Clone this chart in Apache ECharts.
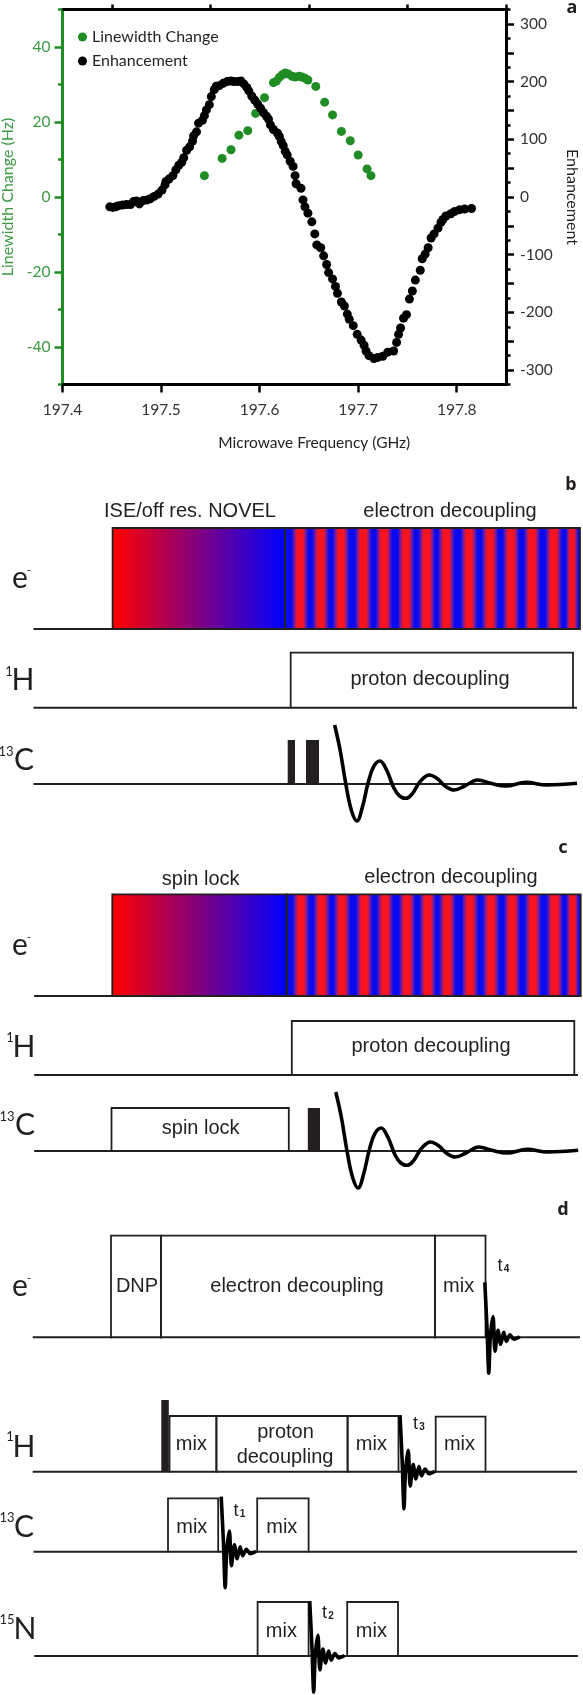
<!DOCTYPE html>
<html>
<head>
<meta charset="utf-8">
<style>
  html, body { margin: 0; padding: 0; background: #fff; overflow: hidden; }
  #chart { width: 583px; height: 1695px; }
</style>
<script src="https://cdn.jsdelivr.net/npm/echarts@6/dist/echarts.min.js"></script>
</head>
<body>
<div id="chart"></div>
<script>
// panel a
const linewidthFreq = [197.544, 197.562, 197.571, 197.579, 197.588, 197.596, 197.605, 197.614, 197.617, 197.620, 197.623, 197.626, 197.629, 197.633, 197.636, 197.640, 197.643, 197.646, 197.649, 197.657, 197.666, 197.674, 197.683, 197.692, 197.700, 197.709, 197.713];
const linewidthValue = [5.7, 10.3, 12.6, 16.5, 17.7, 22.3, 26.5, 30.5, 30.9, 31.9, 32.6, 33.1, 32.8, 32.2, 32.0, 32.2, 32.0, 31.7, 31.2, 29.5, 25.3, 21.9, 17.5, 15.0, 11.2, 7.5, 5.7];
const enhancementFreq = [197.448, 197.451, 197.454, 197.457, 197.461, 197.465, 197.469, 197.472, 197.475, 197.478, 197.482, 197.486, 197.489, 197.493, 197.497, 197.501, 197.504, 197.505, 197.508, 197.512, 197.515, 197.518, 197.521, 197.523, 197.526, 197.529, 197.532, 197.533, 197.536, 197.538, 197.542, 197.544, 197.546, 197.549, 197.551, 197.554, 197.556, 197.559, 197.563, 197.567, 197.571, 197.574, 197.578, 197.581, 197.584, 197.587, 197.589, 197.592, 197.595, 197.598, 197.601, 197.604, 197.607, 197.609, 197.611, 197.614, 197.618, 197.620, 197.622, 197.624, 197.626, 197.628, 197.631, 197.634, 197.636, 197.637, 197.642, 197.644, 197.646, 197.649, 197.653, 197.656, 197.658, 197.662, 197.665, 197.668, 197.670, 197.674, 197.677, 197.679, 197.683, 197.686, 197.689, 197.691, 197.695, 197.699, 197.703, 197.706, 197.708, 197.711, 197.716, 197.720, 197.725, 197.730, 197.736, 197.739, 197.741, 197.743, 197.746, 197.749, 197.752, 197.755, 197.758, 197.763, 197.765, 197.768, 197.771, 197.774, 197.777, 197.781, 197.784, 197.786, 197.789, 197.794, 197.798, 197.803, 197.808, 197.815];
const enhancementValue = [-17, -18, -17, -15, -14, -13, -13, -8, -7, -12, -6, -5, -3, 1, 5, 12, 21, 27, 31, 37, 47, 55, 60, 68, 81, 87, 97, 106, 113, 128, 133, 141, 151, 160, 174, 186, 192, 193, 197, 200, 201, 200, 200, 201, 196, 190, 184, 175, 168, 161, 154, 146, 140, 135, 125, 117, 111, 105, 96, 89, 79, 73, 62, 53, 37, 23, 15, -5, -17, -28, -43, -64, -83, -88, -102, -117, -131, -142, -155, -167, -182, -189, -203, -212, -223, -238, -248, -257, -267, -275, -280, -278, -276, -269, -267, -252, -238, -227, -210, -204, -177, -163, -144, -127, -107, -99, -88, -71, -64, -54, -44, -39, -33, -29, -25, -22, -21, -20];
const freqTicks = [197.4, 197.5, 197.6, 197.7, 197.8];
const freqMinorTicks = [197.45, 197.55, 197.65, 197.75, 197.85];
const linewidthTicks = [-40, -20, 0, 20, 40];
const linewidthMinorTicks = [-50, -30, -10, 10, 30, 50];
const enhancementLabels = [-300, -200, -100, 0, 100, 200, 300];
const enhancementTicks = [-300, -250, -200, -150, -100, -50, 0, 50, 100, 150, 200, 250, 300];
const enhancementMinorTicks = [-325, -275, -225, -175, -125, -75, -25, 25, 75, 125, 175, 225, 275, 325];

// pulse sequences: [start, end, height], time along the row, height above its baseline
const bElectronBoxes = [[112.6, 285, 101], [285, 580, 101]];
const bProtonBoxes = [[290.7, 573, 55]];
const bCarbonSolids = [[287.7, 295, 44], [306, 319, 44]];
const cElectronBoxes = [[112.3, 286.6, 101.7], [286.6, 580.7, 101.7]];
const cProtonBoxes = [[291.8, 574.3, 54]];
const cCarbonBoxes = [[111.5, 288.8, 43]];
const cCarbonSolids = [[307.8, 320, 43]];
const dElectronBoxes = [[111, 161, 101.6], [161, 435, 101.6], [435, 485.5, 101.6]];
const dProtonBoxes = [[169.5, 216.4, 55.7], [216.4, 347.6, 55.7], [347.6, 398.5, 55.7], [435.7, 485.5, 55]];
const dProtonSolids = [[161.3, 168.8, 71.7]];
const dCarbonBoxes = [[168, 218.2, 53.3], [257.2, 308.6, 53.3]];
const dNitrogenBoxes = [[257.6, 308.6, 54], [347.2, 398, 54]];

// long decay traces of panels b and c
const fidTime = [334.6, 340.1, 345.7, 351.3, 356.9, 362.5, 368, 373.6, 379.9, 386.6, 394, 399.6, 406, 412.6, 420, 429.4, 436.8, 446, 454.3, 464.7, 477.7, 490.7, 505.6, 526, 546.5, 577];
const fidAmp = [59, 34, 0.7, -26, -37, -22.7, 0.7, 17.3, 23, 14, -4.3, -12, -14.3, -9.3, 2.3, 9, 5.7, -2.7, -6, -2, 4, 0.7, -2, 1.7, -1, 0.7];
// short decay traces of panel d, time counted from the start of the trace
const shortFidTime = [0, 2.2, 4, 5.5, 8.2, 10.2, 13.2, 15.9, 18.9, 21.5, 25.2, 29, 34.9];
const shortFidAmp = [55, 10, -36, 0, 20.7, -14, 7, -7, 5, -4, 2.5, -2, 0.5];

// electron decoupling: red band centres, blue between them
const bRedBands = [300, 320.7, 341, 363.3, 384, 406, 426.7, 446.3, 469, 490, 511, 532, 553.7, 574.7];
const cRedBands = [301, 321.7, 342, 364.3, 385, 407, 427.7, 447.3, 470, 491, 512, 533, 554.7, 575];

const GREEN = '#1f8c24';
const INK = '#231f20';
const MYRIAD = 'Lato, "Noto Sans", sans-serif';
const ARIAL = '"Liberation Sans", Arial, sans-serif';

const rows = [
  { baseline: 629, from: 33.5, to: 580, boxes: bElectronBoxes, sweep: [112.6, 285, 101], bands: bRedBands, bandArea: [285, 580, 101] },
  { baseline: 707.7, from: 33.5, to: 577, boxes: bProtonBoxes },
  { baseline: 784, from: 33.5, to: 577, solids: bCarbonSolids, fidShift: 0 },
  { baseline: 996, from: 34.2, to: 580.7, boxes: cElectronBoxes, sweep: [112.3, 286.6, 101.7], bands: cRedBands, bandArea: [286.6, 580.7, 101.7] },
  { baseline: 1075, from: 34.2, to: 578, boxes: cProtonBoxes },
  { baseline: 1151, from: 34.2, to: 578, boxes: cCarbonBoxes, solids: cCarbonSolids, fidShift: 1.2 },
  { baseline: 1337.3, from: 32.7, to: 580, boxes: dElectronBoxes, shortFid: [484.8, 1] },
  { baseline: 1471.7, from: 32.7, to: 577, boxes: dProtonBoxes, solids: dProtonSolids, shortFid: [400, 1.03] },
  { baseline: 1551.7, from: 33.5, to: 577, boxes: dCarbonBoxes, shortFid: [221.2, 1] },
  { baseline: 1656, from: 34.2, to: 578, boxes: dNitrogenBoxes, shortFid: [309.7, 1] }
];

// text of panels b, c, d: text, x, y, size, family, weight
const diagramText = [
  ['a', 572, 8, 18, 'Noto Sans', 'bold'],
  ['b', 571, 485, 18, 'Noto Sans', 'bold'],
  ['c', 563, 848, 18, 'Noto Sans', 'bold'],
  ['d', 563, 1210, 18, 'Noto Sans', 'bold'],

  ['ISE/off res. NOVEL', 190, 511, 20, ARIAL],
  ['electron decoupling', 450, 511, 20, ARIAL],
  ['proton decoupling', 430, 679, 20, ARIAL],
  ['spin lock', 200.7, 879, 20, ARIAL],
  ['electron decoupling', 451, 877, 20, ARIAL],
  ['proton decoupling', 431, 1046, 20, ARIAL],
  ['spin lock', 200.7, 1128, 20, ARIAL],

  ['DNP', 137, 1286, 20, ARIAL],
  ['electron decoupling', 297, 1286, 20, ARIAL],
  ['mix', 458.6, 1286, 20, ARIAL],
  ['mix', 191.4, 1444, 20, ARIAL],
  ['proton', 285.5, 1432, 20, ARIAL],
  ['decoupling', 285, 1457, 20, ARIAL],
  ['mix', 371.4, 1444, 20, ARIAL],
  ['mix', 459.5, 1444, 20, ARIAL],
  ['mix', 191.8, 1527, 20, ARIAL],
  ['mix', 281.8, 1527, 20, ARIAL],
  ['mix', 281.4, 1631, 20, ARIAL],
  ['mix', 371.4, 1631, 20, ARIAL],

  ['t', 500, 1266, 18, ARIAL], ['4', 506.5, 1269, 10, ARIAL, 'bold'],
  ['t', 415.5, 1424, 18, ARIAL], ['3', 422, 1427, 10, ARIAL, 'bold'],
  ['t', 236, 1511, 18, ARIAL], ['1', 242.5, 1514, 10, ARIAL, 'bold'],
  ['t', 324.5, 1613, 18, ARIAL], ['2', 331, 1616, 10, ARIAL, 'bold'],

  ['e', 20, 578, 30, MYRIAD], ['-', 29, 570, 12, MYRIAD],
  ['1', 9, 672, 13, MYRIAD], ['H', 23, 680, 30, MYRIAD],
  ['13', 6, 752, 13, MYRIAD], ['C', 24, 760, 30, MYRIAD],
  ['e', 20, 945, 30, MYRIAD], ['-', 29, 937, 12, MYRIAD],
  ['1', 10, 1038, 13, MYRIAD], ['H', 24, 1047, 30, MYRIAD],
  ['13', 7, 1117, 13, MYRIAD], ['C', 25, 1125, 30, MYRIAD],
  ['e', 20, 1286, 30, MYRIAD], ['-', 29, 1278, 12, MYRIAD],
  ['1', 10, 1437, 13, MYRIAD], ['H', 24, 1447, 30, MYRIAD],
  ['13', 7, 1518, 13, MYRIAD], ['C', 24, 1527, 30, MYRIAD],
  ['15', 7, 1620, 13, MYRIAD], ['N', 25, 1629, 30, MYRIAD]
];

const rectItem = (fill) => (params, api) => {
  const a = api.coord([api.value(0), 0]);
  const b = api.coord([api.value(1), api.value(2)]);
  return {
    type: 'rect',
    shape: { x: a[0], y: b[1], width: b[0] - a[0], height: a[1] - b[1] },
    style: { fill: fill }
  };
};

const BLUE = '#0a0af0';
const RED = '#f8141e';
const PURPLE = '#7a1c9a';
const sweepFill = new echarts.graphic.LinearGradient(0, 0, 1, 0, [
  { offset: 0, color: '#ff0000' },
  { offset: 1, color: '#0000ff' }
]);
const bandFill = new echarts.graphic.LinearGradient(0, 0, 1, 0, [
  { offset: 0, color: BLUE },
  { offset: 0.1, color: BLUE },
  { offset: 0.24, color: PURPLE },
  { offset: 0.36, color: RED },
  { offset: 0.64, color: RED },
  { offset: 0.76, color: PURPLE },
  { offset: 0.9, color: BLUE },
  { offset: 1, color: BLUE }
]);

const grids = [{ left: 62.5, top: 9.5, width: 443.5, height: 375, outerBoundsMode: 'none' }];
const xAxes = [
  {
    type: 'value', gridIndex: 0, min: 197.4, max: 197.85,
    name: 'Microwave Frequency (GHz)', nameLocation: 'middle', nameGap: 50,
    nameTextStyle: { fontFamily: MYRIAD, fontSize: 15.5, color: INK, padding: [0, 0, 0, 60] },
    axisLine: { onZero: false, lineStyle: { color: '#000', width: 3 } },
    axisTick: { customValues: freqTicks, length: 8, lineStyle: { color: '#000', width: 2.5 } },
    axisLabel: { customValues: freqTicks, formatter: (v) => v.toFixed(1), margin: 17, fontFamily: MYRIAD, fontSize: 15.5, color: '#333' },
    splitLine: { show: false }
  },
  {
    type: 'value', gridIndex: 0, position: 'top', min: 197.4, max: 197.85,
    axisLine: { onZero: false, lineStyle: { color: '#000', width: 3 } },
    axisTick: { show: false }, axisLabel: { show: false }, splitLine: { show: false }
  },
  {
    type: 'value', gridIndex: 0, min: 197.4, max: 197.85,
    axisLine: { show: false, onZero: false },
    axisTick: { customValues: freqMinorTicks, length: 5, lineStyle: { color: '#000', width: 2.5 } },
    axisLabel: { show: false }, splitLine: { show: false }
  }
];
const yAxes = [
  {
    type: 'value', gridIndex: 0, position: 'left', min: -50, max: 50,
    name: 'Linewidth Change (Hz)', nameLocation: 'middle', nameGap: 44,
    nameTextStyle: { fontFamily: MYRIAD, fontSize: 16, color: '#3a9a3f' },
    axisLine: { onZero: false, lineStyle: { color: GREEN, width: 3 } },
    axisTick: { customValues: linewidthTicks, length: 8, lineStyle: { color: GREEN, width: 2.5 } },
    axisLabel: { customValues: linewidthTicks, margin: 12, fontFamily: MYRIAD, fontSize: 15.5, color: '#3a9a3f' },
    splitLine: { show: false }
  },
  {
    type: 'value', gridIndex: 0, position: 'right', min: -325, max: 325,
    name: 'Enhancement', nameLocation: 'middle', nameGap: 58, nameRotate: -90,
    nameTextStyle: { fontFamily: MYRIAD, fontSize: 16, color: INK },
    axisLine: { onZero: false, lineStyle: { color: '#000', width: 3 } },
    axisTick: { customValues: enhancementTicks, length: 8, lineStyle: { color: '#000', width: 2.5 } },
    axisLabel: { customValues: enhancementLabels, margin: 14, fontFamily: MYRIAD, fontSize: 15.5, color: '#333' },
    splitLine: { show: false }
  },
  {
    type: 'value', gridIndex: 0, position: 'left', min: -50, max: 50,
    axisLine: { show: false, onZero: false },
    axisTick: { customValues: linewidthMinorTicks, length: 4.5, lineStyle: { color: GREEN, width: 2.5 } },
    axisLabel: { show: false }, splitLine: { show: false }
  },
  {
    type: 'value', gridIndex: 0, position: 'right', min: -325, max: 325,
    axisLine: { show: false, onZero: false },
    axisTick: { customValues: enhancementMinorTicks, length: 4.5, lineStyle: { color: '#000', width: 2.5 } },
    axisLabel: { show: false }, splitLine: { show: false }
  }
];

const series = [
  {
    name: 'Enhancement', type: 'scatter', xAxisIndex: 0, yAxisIndex: 1,
    symbolSize: 9, itemStyle: { color: '#000', opacity: 1 }, z: 4,
    data: enhancementFreq.map((f, i) => [f, enhancementValue[i]])
  },
  {
    name: 'Linewidth Change', type: 'scatter', xAxisIndex: 0, yAxisIndex: 0,
    symbolSize: 9, itemStyle: { color: GREEN, opacity: 1 }, z: 3,
    data: linewidthFreq.map((f, i) => [f, linewidthValue[i]])
  }
];

// every pulse row gets its own hidden time and amplitude axes
rows.forEach((row) => {
  const gridIndex = grids.length;
  grids.push({ left: 0, top: row.baseline - 110, width: 583, height: 148, outerBoundsMode: 'none' });
  xAxes.push({ type: 'value', gridIndex: gridIndex, min: 0, max: 583, show: false });
  yAxes.push({ type: 'value', gridIndex: gridIndex, min: -38, max: 110, show: false });
  const axes = { xAxisIndex: gridIndex + 2, yAxisIndex: gridIndex + 3 };
  const rects = (data, fill, z) => ({
    type: 'custom', ...axes, clip: false, z: z,
    encode: { x: [0, 1], y: 2 },
    renderItem: rectItem(fill), data: data
  });

  if (row.sweep) {
    series.push(rects([row.sweep], sweepFill, 2));
    series.push(rects([row.bandArea], BLUE, 2));
    series.push(rects(row.bands.map((c) => [c - 10.6, Math.min(c + 10.6, row.bandArea[1]), row.bandArea[2]]), bandFill, 2));
  }
  if (row.solids) series.push(rects(row.solids, INK, 3));

  series.push({
    type: 'line', ...axes, symbol: 'none', z: 4, silent: true,
    lineStyle: { color: INK, width: 2 },
    data: [[row.from, 0], [row.to, 0]]
  });
  // each box steps up from the baseline and back
  (row.boxes || []).forEach((b) => {
    series.push({
      type: 'line', ...axes, symbol: 'none', z: 4, silent: true,
      lineStyle: { color: INK, width: 1.8, cap: 'square', join: 'miter' },
      data: [[b[0], 0], [b[0], b[2]], [b[1], b[2]], [b[1], 0]]
    });
  });

  if (row.fidShift !== undefined) {
    series.push({
      type: 'line', ...axes, smooth: 0.4, symbol: 'none', z: 5, silent: true,
      lineStyle: { color: '#000', width: 3.6 },
      data: fidTime.map((t, i) => [t + row.fidShift, fidAmp[i]])
    });
  }
  if (row.shortFid) {
    series.push({
      type: 'line', ...axes, smooth: 0.3, symbol: 'none', z: 5, silent: true,
      lineStyle: { color: '#000', width: 3.6 },
      data: shortFidTime.map((t, i) => [row.shortFid[0] + t, shortFidAmp[i] * row.shortFid[1]])
    });
  }
});

const chart = echarts.init(document.getElementById('chart'));
chart.setOption({
  animation: false,
  backgroundColor: '#fff',
  grid: grids,
  xAxis: xAxes,
  yAxis: yAxes,
  legend: {
    data: ['Linewidth Change', 'Enhancement'],
    orient: 'vertical', left: 73, top: 24,
    itemWidth: 9, itemHeight: 9, itemGap: 8, icon: 'circle',
    textStyle: { fontFamily: MYRIAD, fontSize: 16, color: INK }
  },
  graphic: diagramText.map((t) => ({
    type: 'text', x: t[1], y: t[2], z: 20, silent: true,
    style: {
      text: t[0], fontSize: t[3], fontFamily: t[4], fontWeight: t[5] || 'normal',
      fill: INK, align: 'center', verticalAlign: 'middle'
    }
  })),
  series: series
});
</script>
</body>
</html>
